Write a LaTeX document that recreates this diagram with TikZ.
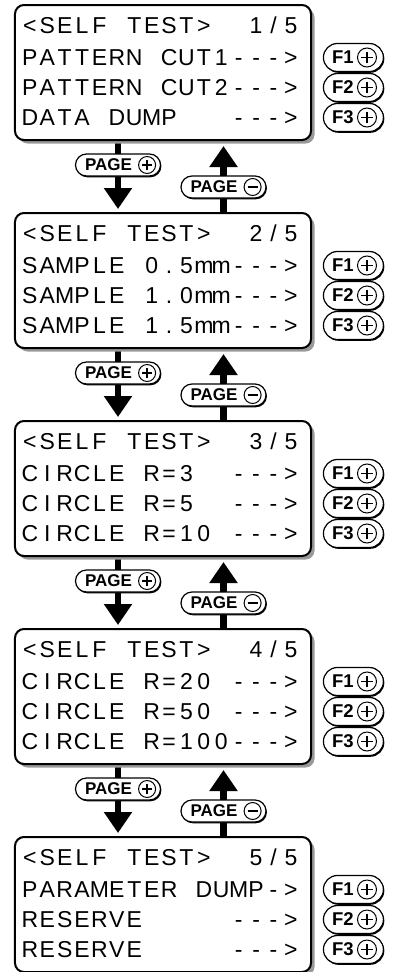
\documentclass[tikz,border=0pt]{standalone}
\usepackage{fontspec}
\setmainfont{Liberation Sans}
\usetikzlibrary{arrows.meta, positioning, shapes.misc, shadows, backgrounds}

% one LCD character per fixed cell, ~ is a blank cell
\newlength{\lcdcell}
\setlength{\lcdcell}{17.4bp}
\makeatletter
\newcommand{\lcdline}[1]{\expandafter\lcd@chars\expandafter{#1}}
\newcommand{\lcd@chars}[1]{\@tfor\lcd@c:=#1\do{\makebox[\lcdcell][c]{\lcd@c}}}
\makeatother

\begin{document}
\begin{tikzpicture}[
    x=1bp, y=-1bp,
    screen/.style={draw, line width=2bp, rounded corners=9bp, fill=white,
                   minimum width=296bp, minimum height=135bp,
                   drop shadow={shadow xshift=3.5bp, shadow yshift=-3.5bp,
                                fill=black!40, opacity=1}},
    lcdrow/.style={anchor=west, inner sep=0pt, font=\fontsize{23bp}{28bp}\selectfont},
    keypill/.style={rounded rectangle, draw, line width=1.2bp, fill=white, inner sep=0pt,
                    drop shadow={shadow xshift=0.9bp, shadow yshift=-1.3bp,
                                 fill=black, opacity=1}},
    pagekey/.style={keypill, minimum width=85bp, minimum height=22bp,
                    font=\bfseries\fontsize{17bp}{20bp}\selectfont},
    fkey/.style={keypill, minimum width=60bp, minimum height=28bp,
                 font=\bfseries\fontsize{18.5bp}{22bp}\selectfont},
    keysign/.style={circle, draw, line width=1bp, fill=white, inner sep=0pt, minimum size=#1},
    plussign/.style={keysign=#1, path picture={
        \draw[line width=1.8bp]
          ([xshift=-0.3*#1]path picture bounding box.center) --
          ([xshift=0.3*#1]path picture bounding box.center)
          ([yshift=-0.3*#1]path picture bounding box.center) --
          ([yshift=0.3*#1]path picture bounding box.center);}},
    minussign/.style={keysign=#1, path picture={
        \draw[line width=1.8bp]
          ([xshift=-0.3*#1]path picture bounding box.center) --
          ([xshift=0.3*#1]path picture bounding box.center);}},
    pagearr/.style={line width=6.5bp, -{Triangle[width=27bp, length=21bp]}}
]
\useasboundingbox (0,0) rectangle (394,972);

% the five self test screens
\foreach \k/\ra/\rb/\rc in {
    1/{PATTERN~CUT1--->}/{PATTERN~CUT2--->}/{DATA~DUMP~~~--->},
    2/{SAMPLE~0.5mm--->}/{SAMPLE~1.0mm--->}/{SAMPLE~1.5mm--->},
    3/{CIRCLE~R=3~~--->}/{CIRCLE~R=5~~--->}/{CIRCLE~R=10~--->},
    4/{CIRCLE~R=20~--->}/{CIRCLE~R=50~--->}/{CIRCLE~R=100--->},
    5/{PARAMETER~DUMP->}/{RESERVE~~~~~--->}/{RESERVE~~~~~--->}} {
  \pgfmathsetmacro{\ytop}{5+208*(\k-1)}
  \node[screen] (scr\k) at (163, \ytop+67.5) {};
  \node[lcdrow] (scr\k-1) at (21, \ytop+20) {\lcdline{<SELF~TEST>~~\k/5}};
  \node[lcdrow] (scr\k-2) at (21, \ytop+52.5) {\lcdline{\ra}};
  \node[lcdrow] (scr\k-3) at (21, \ytop+82.5) {\lcdline{\rb}};
  \node[lcdrow] (scr\k-4) at (21, \ytop+112.5) {\lcdline{\rc}};
  % function keys
  \foreach \r in {2,3,4} {
    \pgfmathtruncatemacro{\f}{\r-1}
    \node[fkey, right=23bp of scr\k-\r] (scr\k-f\f) {F\f\kern21bp};
    \node[plussign=19bp] (scr\k-f\f s) at ([xshift=-17bp]scr\k-f\f.east) {};
  }
}

% page keys between screens
\foreach \k in {1,...,4} {
  \pgfmathsetmacro{\ybot}{5+208*(\k-1)+135}
  \pgfmathtruncatemacro{\n}{\k+1}
  \node[pagekey] (pgnext\k) at (118, \ybot+25) {PAGE\kern19bp};
  \node[plussign=17bp] (pgnext\k s) at ([xshift=-14bp]pgnext\k.east) {};
  \node[pagekey] (pgprev\k) at (223.5, \ybot+47) {PAGE\kern19bp};
  \node[minussign=17bp] (pgprev\k s) at ([xshift=-14bp]pgprev\k.east) {};
  \begin{pgfonlayer}{background}
    \draw[pagearr, shorten >=3bp] (scr\k.south -| pgnext\k) -- (scr\n.north -| pgnext\k);
    \draw[pagearr, shorten >=5bp] (scr\n.north -| pgprev\k) -- (scr\k.south -| pgprev\k);
  \end{pgfonlayer}
}
\end{tikzpicture}
\end{document}
